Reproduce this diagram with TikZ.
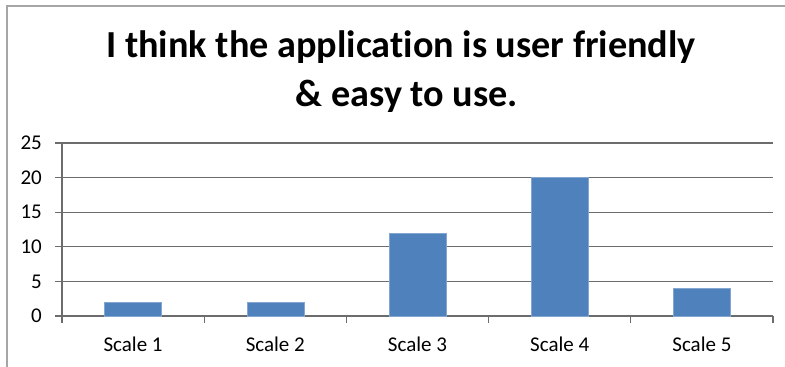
\documentclass[tikz,border=0pt]{standalone}
\usepackage{fontspec}
\setmainfont[RawFeature=-liga]{Carlito}
\begin{document}
\begin{tikzpicture}[x=1pt,y=1pt,
  grid/.style={draw=gray!85!black, line width=1.2pt},
  frame/.style={draw=gray!70, line width=1.3pt},
  bar/.style={fill=barblue, draw=barblue!70!white, line width=0.6pt},
  ticklab/.style={font=\fontsize{21}{25}\selectfont, anchor=east, inner sep=0pt},
  catlab/.style={font=\fontsize{21}{25}\selectfont, anchor=base, inner sep=0pt},
  titlelab/.style={font=\fontsize{38.2}{42}\bfseries\selectfont, anchor=base, inner sep=0pt}]
\definecolor{barblue}{HTML}{4F81BD}
\useasboundingbox (0,0) rectangle (785,367);
\fill[white] (0,0) rectangle (785,367);
% outer frame
\draw[frame] (7,0) -- (7,361) -- (785,361);
% title
\node[titlelab] (t1) at (401,309) {I think the application is user friendly};
\node[titlelab] (t2) at (407,260) {\& easy to use.};
% gridlines
\foreach \v in {5,10,15,20,25} {
  \draw[grid] (55,{51+6.92*\v}) -- (773,{51+6.92*\v});
}
% axes
\draw[grid] (55,51) -- (773,51);
\draw[grid] (62,44) -- (62,224);
\foreach \i in {1,...,5} {
  \draw[grid] ({62+142.2*\i},51) -- ({62+142.2*\i},44);
}
% y labels
\foreach \v in {0,5,10,15,20,25} {
  \node[ticklab] at (42,{51+6.92*\v}) {\v};
}
% bars
\foreach \i/\h in {1/2,2/2,3/12,4/20,5/4} {
  \path[bar] ({62+142.2*(\i-0.5)-28.5},51) rectangle ({62+142.2*(\i-0.5)+28.5},{51+6.92*\h});
  \node[catlab] (c\i) at ({62+142.2*(\i-0.5)},16) {Scale \i};
}
\end{tikzpicture}
\end{document}
